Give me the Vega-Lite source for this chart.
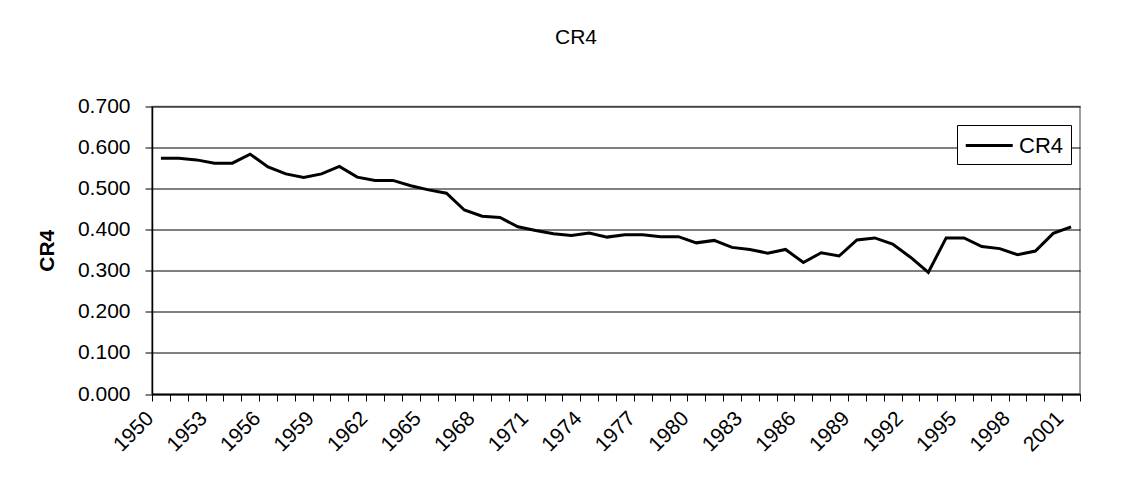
{
  "$schema": "https://vega.github.io/schema/vega-lite/v6.json",
  "autosize": "none",
  "width": 928,
  "height": 287.5,
  "padding": {"left": 152, "top": 106.5, "right": 53, "bottom": 93},
  "background": "white",
  "title": {"text": "CR4", "anchor": "middle", "frame": "group", "dx": -40, "offset": 48, "fontSize": 21, "fontWeight": "normal", "font": "Liberation Sans", "color": "black"},
  "data": {"values": [
    {"year": 1950, "cr4": 0.574, "series": "CR4"},
    {"year": 1951, "cr4": 0.574, "series": "CR4"},
    {"year": 1952, "cr4": 0.570, "series": "CR4"},
    {"year": 1953, "cr4": 0.562, "series": "CR4"},
    {"year": 1954, "cr4": 0.562, "series": "CR4"},
    {"year": 1955, "cr4": 0.584, "series": "CR4"},
    {"year": 1956, "cr4": 0.553, "series": "CR4"},
    {"year": 1957, "cr4": 0.536, "series": "CR4"},
    {"year": 1958, "cr4": 0.527, "series": "CR4"},
    {"year": 1959, "cr4": 0.536, "series": "CR4"},
    {"year": 1960, "cr4": 0.554, "series": "CR4"},
    {"year": 1961, "cr4": 0.528, "series": "CR4"},
    {"year": 1962, "cr4": 0.520, "series": "CR4"},
    {"year": 1963, "cr4": 0.520, "series": "CR4"},
    {"year": 1964, "cr4": 0.507, "series": "CR4"},
    {"year": 1965, "cr4": 0.497, "series": "CR4"},
    {"year": 1966, "cr4": 0.489, "series": "CR4"},
    {"year": 1967, "cr4": 0.448, "series": "CR4"},
    {"year": 1968, "cr4": 0.433, "series": "CR4"},
    {"year": 1969, "cr4": 0.430, "series": "CR4"},
    {"year": 1970, "cr4": 0.407, "series": "CR4"},
    {"year": 1971, "cr4": 0.398, "series": "CR4"},
    {"year": 1972, "cr4": 0.390, "series": "CR4"},
    {"year": 1973, "cr4": 0.386, "series": "CR4"},
    {"year": 1974, "cr4": 0.392, "series": "CR4"},
    {"year": 1975, "cr4": 0.382, "series": "CR4"},
    {"year": 1976, "cr4": 0.388, "series": "CR4"},
    {"year": 1977, "cr4": 0.388, "series": "CR4"},
    {"year": 1978, "cr4": 0.383, "series": "CR4"},
    {"year": 1979, "cr4": 0.383, "series": "CR4"},
    {"year": 1980, "cr4": 0.368, "series": "CR4"},
    {"year": 1981, "cr4": 0.374, "series": "CR4"},
    {"year": 1982, "cr4": 0.357, "series": "CR4"},
    {"year": 1983, "cr4": 0.352, "series": "CR4"},
    {"year": 1984, "cr4": 0.343, "series": "CR4"},
    {"year": 1985, "cr4": 0.352, "series": "CR4"},
    {"year": 1986, "cr4": 0.320, "series": "CR4"},
    {"year": 1987, "cr4": 0.344, "series": "CR4"},
    {"year": 1988, "cr4": 0.336, "series": "CR4"},
    {"year": 1989, "cr4": 0.375, "series": "CR4"},
    {"year": 1990, "cr4": 0.380, "series": "CR4"},
    {"year": 1991, "cr4": 0.365, "series": "CR4"},
    {"year": 1992, "cr4": 0.333, "series": "CR4"},
    {"year": 1993, "cr4": 0.296, "series": "CR4"},
    {"year": 1994, "cr4": 0.380, "series": "CR4"},
    {"year": 1995, "cr4": 0.380, "series": "CR4"},
    {"year": 1996, "cr4": 0.359, "series": "CR4"},
    {"year": 1997, "cr4": 0.354, "series": "CR4"},
    {"year": 1998, "cr4": 0.339, "series": "CR4"},
    {"year": 1999, "cr4": 0.348, "series": "CR4"},
    {"year": 2000, "cr4": 0.391, "series": "CR4"},
    {"year": 2001, "cr4": 0.407, "series": "CR4"}
  ]},
  "mark": {"type": "line", "strokeWidth": 3, "strokeJoin": "miter"},
  "encoding": {
    "x": {
      "field": "year", "type": "ordinal", "bandPosition": 0.5,
      "scale": {"type": "band", "paddingInner": 0, "paddingOuter": 0},
      "axis": {
        "title": null, "tickBand": "extent", "grid": false,
        "labelAngle": -45, "labelAlign": "right", "labelBaseline": "middle",
        "labelExpr": "(datum.value - 1950) % 3 == 0 ? datum.value : ''",
        "labelOverlap": false, "labelFontSize": 21, "labelFont": "Liberation Sans",
        "labelColor": "black", "labelPadding": 14, "labelOffset": -11,
        "tickSize": 7, "tickColor": "black", "domainColor": "black"
      }
    },
    "y": {
      "field": "cr4", "type": "quantitative",
      "scale": {"domain": [0, 0.7], "nice": false},
      "axis": {
        "title": "CR4", "titleFontSize": 21, "titleFont": "Liberation Sans", "titleFontWeight": "bold",
        "titleColor": "black", "titlePadding": 20,
        "values": [0, 0.1, 0.2, 0.3, 0.4, 0.5, 0.6, 0.7], "format": ".3f",
        "labelFontSize": 21, "labelFont": "Liberation Sans", "labelColor": "black", "labelPadding": 15,
        "tickSize": 7, "tickColor": "black", "domainColor": "black",
        "grid": true, "gridColor": "black", "gridWidth": 1, "gridOpacity": 1
      }
    },
    "color": {
      "field": "series", "type": "nominal",
      "scale": {"range": ["black"]},
      "legend": {
        "title": null, "orient": "none", "legendX": 805, "legendY": 18.5,
        "strokeColor": "black", "fillColor": "white", "padding": 7, "cornerRadius": 0,
        "symbolType": "M-1,0H3", "symbolSize": 552, "symbolStrokeWidth": 3,
        "symbolStrokeColor": "black", "symbolFillColor": "transparent",
        "labelFontSize": 22, "labelFont": "Liberation Sans", "labelColor": "black", "labelOffset": 28
      }
    }
  },
  "config": {
    "view": {"stroke": "#808080", "strokeWidth": 1.5},
    "axis": {"domainWidth": 1.5, "tickWidth": 1}
  }
}
